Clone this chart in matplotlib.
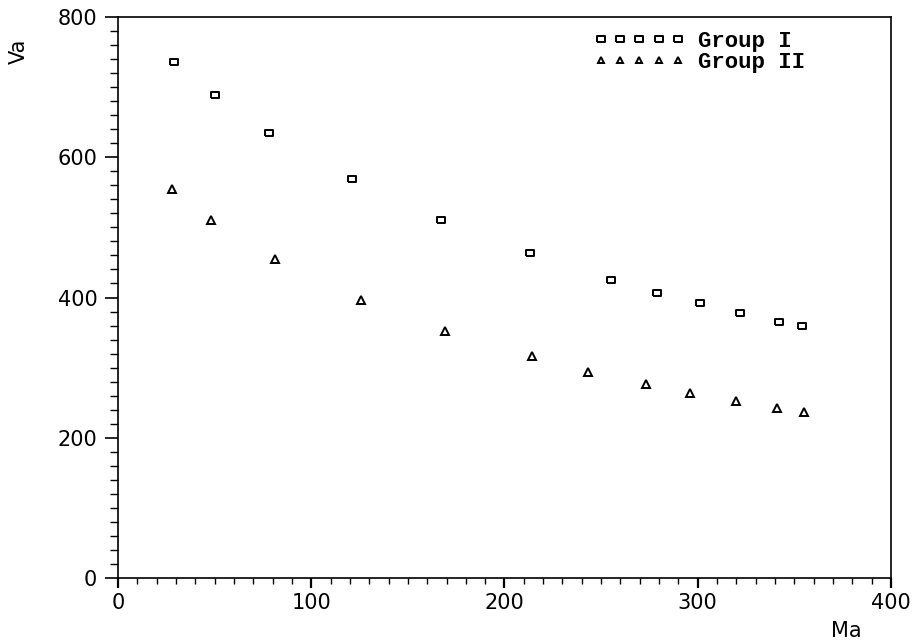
import matplotlib
matplotlib.use("Agg")
import matplotlib.pyplot as plt
from matplotlib.ticker import MultipleLocator

# Group I and Group II: Va as a function of Ma
ma_group1 = [29, 50, 78, 121, 167, 213, 255, 279, 301, 322, 342, 354]
va_group1 = [736, 689, 634, 569, 510, 464, 425, 407, 392, 378, 365, 359]

ma_group2 = [28, 48, 81, 126, 169, 214, 243, 273, 296, 320, 341, 355]
va_group2 = [555, 510, 455, 396, 352, 316, 294, 276, 264, 252, 242, 237]

x_ticks = [0, 100, 200, 300, 400]
y_ticks = [0, 200, 400, 600, 800]

fig = plt.figure(figsize=(9.2, 6.4), dpi=100)
ax = fig.add_axes([118 / 920, 62 / 640, 773 / 920, 561 / 640])

# slightly flattened open square
rect = [(-1.2, -0.9), (1.2, -0.9), (1.2, 0.9), (-1.2, 0.9), (-1.2, -0.9)]
ax.plot(ma_group1, va_group1, linestyle="none", marker=rect, markersize=5.6,
        markerfacecolor="white", markeredgecolor="black", markeredgewidth=1.4,
        label="Group I")
ax.plot(ma_group2, va_group2, linestyle="none", marker="^", markersize=5.2,
        markerfacecolor="white", markeredgecolor="black", markeredgewidth=1.4,
        label="Group II")

ax.set_xlim(0, 400)
ax.set_ylim(0, 800)
ax.set_xticks(x_ticks)
ax.set_yticks(y_ticks)
ax.xaxis.set_minor_locator(MultipleLocator(10))
ax.yaxis.set_minor_locator(MultipleLocator(20))

for s in ax.spines.values():
    s.set_linewidth(1.2)

ax.tick_params(axis="y", which="major", direction="out", length=9.4, width=1.2,
               pad=5.5, labelsize=15)
ax.tick_params(axis="y", which="minor", direction="out", length=6, width=1.0)
ax.tick_params(axis="x", which="major", direction="out", length=7.5, width=1.6,
               pad=3.5, labelsize=15)
ax.tick_params(axis="x", which="minor", direction="out", length=4.5, width=1.0)

fig.text(19 / 920, 1 - 51 / 640, "Va", rotation=90, ha="center", va="center",
         fontsize=15)
fig.text(846 / 920, 1 - 631 / 640, "Ma", ha="center", va="center", fontsize=15)

ax.legend(loc="upper left", bbox_to_anchor=(0.616, 0.975), frameon=False,
          numpoints=5, markerscale=0.95, handlelength=4.07, handletextpad=0.6,
          labelspacing=0.0, borderaxespad=0.0, borderpad=0.0,
          prop={"family": "Liberation Mono", "weight": "bold", "size": 16})

fig.savefig("out.png", dpi=100, facecolor="white")
